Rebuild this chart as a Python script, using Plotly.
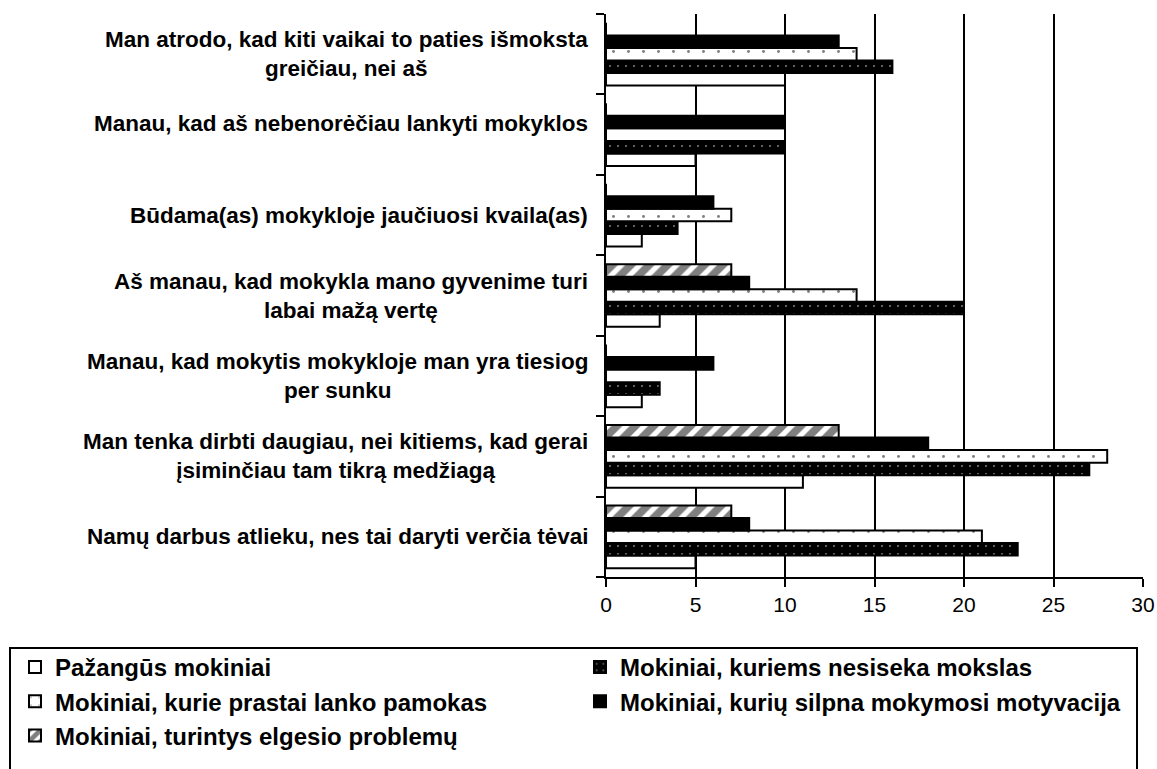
import plotly.graph_objects as go

# ============================================================
# Data (categories listed top to bottom as they appear)
# ============================================================

categories = [
    "Man atrodo, kad kiti vaikai to paties išmoksta<br>greičiau, nei aš",
    "Manau, kad aš nebenorėčiau lankyti mokyklos",
    "Būdama(as) mokykloje jaučiuosi kvaila(as)",
    "Aš manau, kad mokykla mano gyvenime turi<br>labai mažą vertę",
    "Manau, kad mokytis mokykloje man yra tiesiog<br>per sunku",
    "Man tenka dirbti daugiau, nei kitiems, kad gerai<br>įsiminčiau tam tikrą medžiagą",
    "Namų darbus atlieku, nes tai daryti verčia tėvai",
]

series_names = [
    "Pažangūs mokiniai",
    "Mokiniai, kuriems nesiseka mokslas",
    "Mokiniai, kurie prastai lanko pamokas",
    "Mokiniai, kurių silpna mokymosi motyvacija",
    "Mokiniai, turintys elgesio problemų",
]

pazangus = [10, 5, 2, 3, 2, 11, 5]
nesiseka = [16, 10, 4, 20, 3, 27, 23]
prastai_lanko = [14, 10, 7, 14, 0, 28, 21]
silpna_motyvacija = [13, 10, 6, 8, 6, 18, 8]
elgesio_problemos = [0, 0, 0, 7, 0, 13, 7]

x_ticks = [0, 5, 10, 15, 20, 25, 30]

# ============================================================
# Styles
# ============================================================

FONT = "Liberation Sans, Arial, sans-serif"

W, H = 1157, 769
L, R, T, B = 606, 14, 14, 192
PLOT_W = W - L - R
PLOT_H = H - T - B

styles = [
    dict(color="white", pattern=dict(shape="")),
    dict(color="black", pattern=dict(shape=".", bgcolor="black", fgcolor="white",
                                     size=8, solidity=0.05, fillmode="overlay")),
    dict(color="white", pattern=dict(shape=".", bgcolor="white", fgcolor="black",
                                     size=15, solidity=0.03, fillmode="overlay")),
    dict(color="black", pattern=dict(shape="")),
    dict(color="white", pattern=dict(shape="/", bgcolor="white", fgcolor="black",
                                     size=13, solidity=0.6, fillmode="overlay")),
]

legend_of = ["legend", "legend2", "legend", "legend2", "legend"]

values = [pazangus, nesiseka, prastai_lanko, silpna_motyvacija, elgesio_problemos]

fig = go.Figure()

for name, vals, st, lg in zip(series_names, values, styles, legend_of):
    fig.add_trace(
        go.Bar(
            y=categories,
            x=vals,
            orientation="h",
            name=name,
            legend=lg,
            marker=dict(
                color=st["color"],
                pattern=st["pattern"],
                line=dict(color="black", width=2),
            ),
        )
    )

# ------------------------------------------------------------
# Category labels (centred lines, right aligned block)
# ------------------------------------------------------------

label_shift = {categories[1]: 11}

for cat in categories:
    fig.add_annotation(
        x=0, xref="paper",
        y=cat, yref="y",
        text=cat,
        showarrow=False,
        xanchor="right",
        xshift=-16,
        yshift=label_shift.get(cat, 0),
        align="center",
        font=dict(family=FONT, size=22.5, color="black", weight="bold"),
    )

# ------------------------------------------------------------
# Legend frame
# ------------------------------------------------------------

fig.add_shape(
    type="rect",
    xref="paper", yref="paper",
    x0=(10 - L) / PLOT_W, x1=(1137 - L) / PLOT_W,
    y0=(T + PLOT_H - 785) / PLOT_H, y1=(T + PLOT_H - 648) / PLOT_H,
    line=dict(color="black", width=2),
    fillcolor="rgba(0,0,0,0)",
)

legend_style = dict(
    xref="container", yref="container",
    yanchor="top", xanchor="left",
    orientation="v",
    bgcolor="rgba(0,0,0,0)",
    borderwidth=0,
    traceorder="normal",
    font=dict(family=FONT, size=24, color="black", weight="bold"),
)

# ------------------------------------------------------------
# Layout
# ------------------------------------------------------------

fig.update_layout(
    width=W,
    height=H,
    margin=dict(l=L, r=R, t=T, b=B, autoexpand=False),
    paper_bgcolor="white",
    plot_bgcolor="white",
    barmode="group",
    bargap=0.22,
    bargroupgap=0,
    showlegend=True,
    legend=dict(x=15 / W, y=1 - 645 / H, **legend_style),
    legend2=dict(x=580 / W, y=1 - 645 / H, **legend_style),
)

fig.update_xaxes(
    range=[0, 30],
    tickvals=x_ticks,
    showgrid=True,
    gridcolor="black",
    gridwidth=2,
    zeroline=False,
    showline=True,
    linecolor="black",
    linewidth=2,
    ticks="outside",
    ticklen=8,
    tickwidth=2,
    tickcolor="black",
    tickfont=dict(family=FONT, size=21, color="black"),
)

fig.update_yaxes(
    type="category",
    categoryorder="array",
    categoryarray=categories[::-1],
    range=[-0.5, len(categories) - 0.5],
    showticklabels=False,
    showgrid=False,
    zeroline=False,
    showline=True,
    linecolor="black",
    linewidth=2,
    ticks="outside",
    tickson="boundaries",
    ticklen=8,
    tickwidth=2,
    tickcolor="black",
)

# drop the page's default body margin so the figure fills the window
fig.write_html(
    "out.html",
    config={"displayModeBar": False},
    post_script="document.body.style.margin = '0';",
)
